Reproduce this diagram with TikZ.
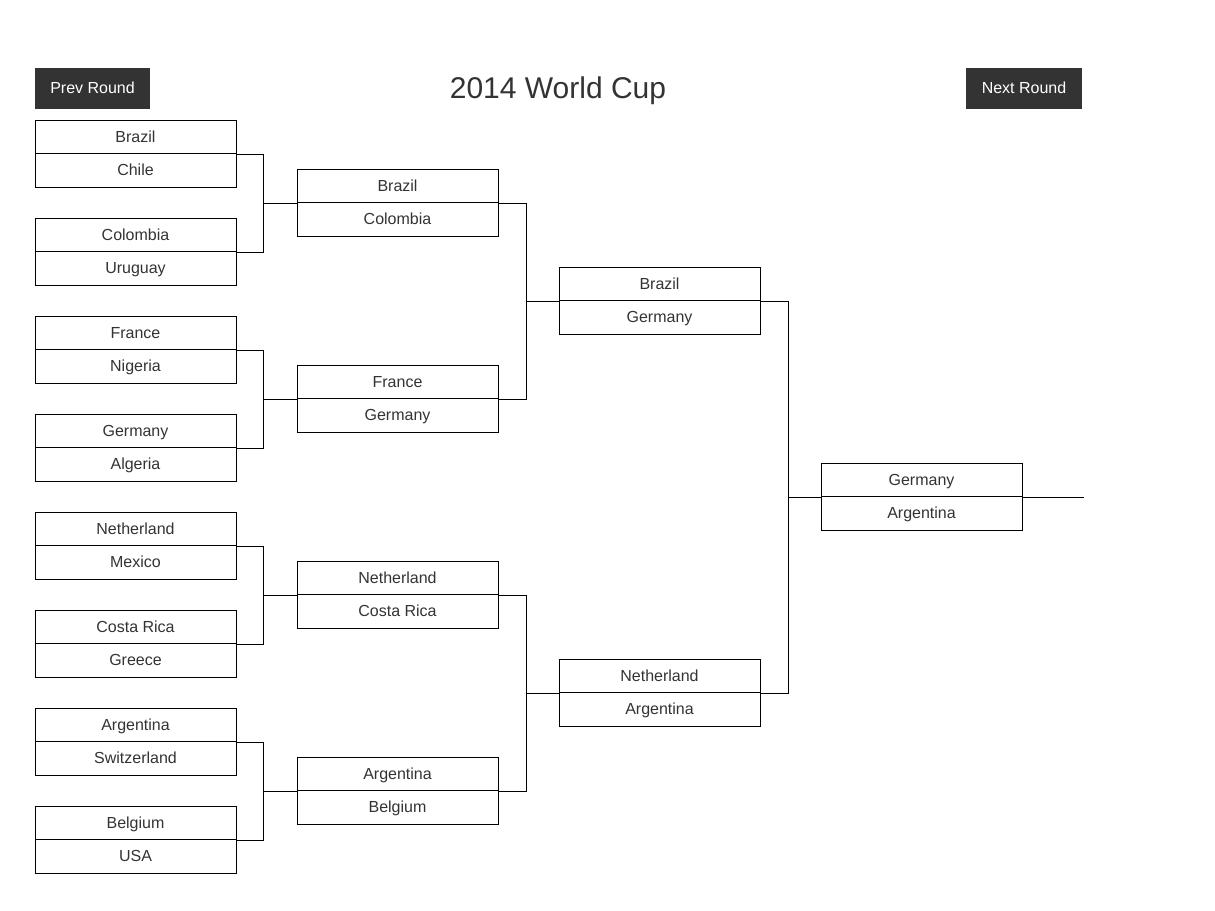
\documentclass[tikz,border=0pt]{standalone}
\usepackage{fontspec}
\setmainfont{Liberation Sans}
\definecolor{txtgray}{HTML}{333333}
\definecolor{btngray}{HTML}{333333}

\begin{document}
\begin{tikzpicture}[x=1pt,y=-1pt,line width=1pt,
	team/.style={draw=black,minimum width=201pt,minimum height=33.5pt,inner sep=0pt,text height=11.5pt,text depth=1pt,text=txtgray,font=\fontsize{16}{19}\selectfont},
	button/.style={fill=btngray,text=white,minimum height=41pt,inner sep=0pt,text height=11.5pt,text depth=1pt,font=\fontsize{16}{19}\selectfont},
	link/.style={draw=black,line width=1pt}]
	\useasboundingbox (0,0) rectangle (1215,910);
	\node at (558,91) (title) [text=txtgray,font=\fontsize{30}{36}\selectfont] {2014 World Cup};
	\node at (92.5,88.5) (prev) [button,minimum width=115pt] {Prev Round};
	\node at (1024,88.5) (next) [button,minimum width=116pt] {Next Round};

	% round of 16
	\node at (135.5,136.75) (ra1) [team] {Brazil};
	\node at (135.5,170.25) (rb1) [team] {Chile};
	\node at (135.5,234.75) (ra2) [team] {Colombia};
	\node at (135.5,268.25) (rb2) [team] {Uruguay};
	\node at (135.5,332.75) (ra3) [team] {France};
	\node at (135.5,366.25) (rb3) [team] {Nigeria};
	\node at (135.5,430.75) (ra4) [team] {Germany};
	\node at (135.5,464.25) (rb4) [team] {Algeria};
	\node at (135.5,528.75) (ra5) [team] {Netherland};
	\node at (135.5,562.25) (rb5) [team] {Mexico};
	\node at (135.5,626.75) (ra6) [team] {Costa Rica};
	\node at (135.5,660.25) (rb6) [team] {Greece};
	\node at (135.5,724.75) (ra7) [team] {Argentina};
	\node at (135.5,758.25) (rb7) [team] {Switzerland};
	\node at (135.5,822.75) (ra8) [team] {Belgium};
	\node at (135.5,856.25) (rb8) [team] {USA};

	% quarter finals
	\node at (397.5,185.75) (qa1) [team] {Brazil};
	\node at (397.5,219.25) (qb1) [team] {Colombia};
	\node at (397.5,381.75) (qa2) [team] {France};
	\node at (397.5,415.25) (qb2) [team] {Germany};
	\node at (397.5,577.75) (qa3) [team] {Netherland};
	\node at (397.5,611.25) (qb3) [team] {Costa Rica};
	\node at (397.5,773.75) (qa4) [team] {Argentina};
	\node at (397.5,807.25) (qb4) [team] {Belgium};

	% semi finals
	\node at (659.5,283.75) (sa1) [team] {Brazil};
	\node at (659.5,317.25) (sb1) [team] {Germany};
	\node at (659.5,675.75) (sa2) [team] {Netherland};
	\node at (659.5,709.25) (sb2) [team] {Argentina};

	% final
	\node at (921.5,479.75) (fa) [team] {Germany};
	\node at (921.5,513.25) (fb) [team] {Argentina};

	\coordinate (rq1) at ([xshift=-33pt]qa1.south west);
	\coordinate (rq2) at ([xshift=-33pt]qa2.south west);
	\coordinate (rq3) at ([xshift=-33pt]qa3.south west);
	\coordinate (rq4) at ([xshift=-33pt]qa4.south west);
	\coordinate (qs1) at ([xshift=-32pt]sa1.south west);
	\coordinate (qs2) at ([xshift=-32pt]sa2.south west);
	\coordinate (sf) at ([xshift=-32pt]fa.south west);
	\coordinate (champ) at ([xshift=61pt]fa.south east);

	\draw [link] (ra1.south east) -| (rq1) |- (ra2.south east);
	\draw [link] (rq1) -- (qa1.south west);
	\draw [link] (ra3.south east) -| (rq2) |- (ra4.south east);
	\draw [link] (rq2) -- (qa2.south west);
	\draw [link] (ra5.south east) -| (rq3) |- (ra6.south east);
	\draw [link] (rq3) -- (qa3.south west);
	\draw [link] (ra7.south east) -| (rq4) |- (ra8.south east);
	\draw [link] (rq4) -- (qa4.south west);

	\draw [link] (qa1.south east) -| (qs1) |- (qa2.south east);
	\draw [link] (qs1) -- (sa1.south west);
	\draw [link] (qa3.south east) -| (qs2) |- (qa4.south east);
	\draw [link] (qs2) -- (sa2.south west);

	\draw [link] (sa1.south east) -| (sf) |- (sa2.south east);
	\draw [link] (sf) -- (fa.south west);
	\draw [link] (fa.south east) -- (champ);
\end{tikzpicture}
\end{document}
